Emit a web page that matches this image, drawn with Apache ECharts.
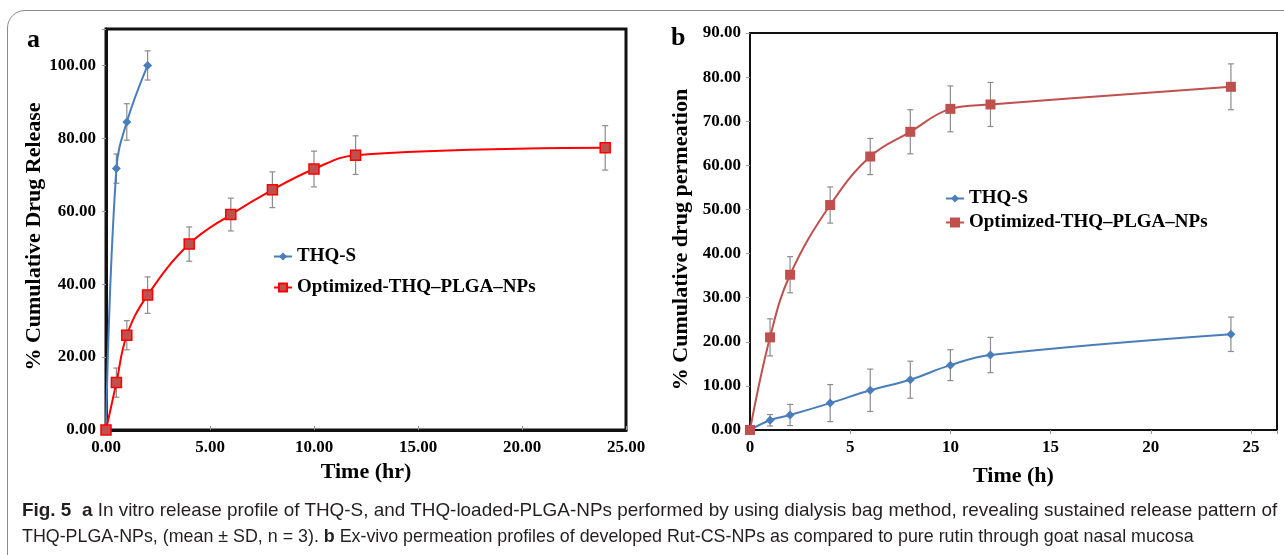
<!DOCTYPE html>
<html>
<head>
<meta charset="utf-8">
<script src="https://cdn.jsdelivr.net/npm/echarts@6/dist/echarts.min.js"></script>
<style>
  html, body { margin:0; padding:0; width:1284px; height:555px; overflow:hidden; background:#fff; }
  #frame { position:absolute; left:7px; top:10px; width:1320px; height:580px; border:1.5px solid #8a8a8a; border-top-left-radius:18px; box-sizing:border-box; }
  #chart { position:absolute; left:0; top:0; width:1284px; height:555px; }
  .cap { position:absolute; left:22px; white-space:nowrap; font-family:'Liberation Sans Narrow','Liberation Sans',sans-serif; font-size:19px; color:#231f20; transform-origin:0 50%; }
  .cap b { font-weight:bold; }
</style>
</head>
<body>
<div id="frame"></div>
<div id="chart"></div>
<div class="cap" id="cap1" style="top:499px"><b>Fig. 5</b>&nbsp; <b>a</b> In vitro release profile of THQ-S, and THQ-loaded-PLGA-NPs performed by using dialysis bag method, revealing sustained release pattern of</div>
<div class="cap" id="cap2" style="top:525px">THQ-PLGA-NPs, (mean ± SD, n = 3). <b>b</b> Ex-vivo permeation profiles of developed Rut-CS-NPs as compared to pure rutin through goat nasal mucosa</div>
<script>
// ---- data ----
const aThqsTime = [0, 0.5, 1, 2];
const aThqsVal  = [0, 71.7, 84.5, 100];
const aThqsErr  = [0, 4, 5, 4];
const aNpTime   = [0, 0.5, 1, 2, 4, 6, 8, 10, 12, 24];
const aNpVal    = [0, 13, 26, 37, 51, 59.1, 65.9, 71.6, 75.4, 77.4];
const aNpErr    = [0, 4, 4, 5, 4.7, 4.5, 4.9, 4.9, 5.3, 6.1];
const bTime     = [0, 1, 2, 4, 6, 8, 10, 12, 24];
const bThqsVal  = [0, 2.2, 3.4, 6.1, 9.0, 11.4, 14.7, 17.0, 21.7];
const bThqsErr  = [0, 1.3, 2.4, 4.2, 4.8, 4.2, 3.5, 4.0, 3.9];
const bNpVal    = [0, 21, 35.2, 51, 62, 67.6, 72.8, 73.8, 77.8];
const bNpErr    = [0, 4.2, 4.1, 4.1, 4.1, 5.0, 5.2, 5.0, 5.2];
const seriesNames = ['THQ-S', 'Optimized-THQ\u2013PLGA\u2013NPs'];
const aYStep = 20, aXStep = 5, bYStep = 10, bXStep = 5;

// ---- helpers ----
const SERIF = 'Liberation Serif';
function pts(xs, ys) { return xs.map((x, i) => [x, ys[i]]); }
function errs(xs, ys, es) { return xs.map((x, i) => [x, ys[i] - es[i], ys[i] + es[i]]).filter((d, i) => es[i] > 0); }
function errRender(params, api) {
  const x = api.value(0), lo = api.value(1), hi = api.value(2);
  const p1 = api.coord([x, lo]), p2 = api.coord([x, hi]);
  const w = 3, st = { stroke: '#8c8c8c', lineWidth: 1.2 };
  return { type: 'group', children: [
    { type: 'line', shape: { x1: p1[0], y1: p1[1], x2: p2[0], y2: p2[1] }, style: st },
    { type: 'line', shape: { x1: p1[0] - w, y1: p1[1], x2: p1[0] + w, y2: p1[1] }, style: st },
    { type: 'line', shape: { x1: p2[0] - w, y1: p2[1], x2: p2[0] + w, y2: p2[1] }, style: st }
  ]};
}
const labelStyle = { fontFamily: SERIF, fontWeight: 'bold', fontSize: 17, color: '#000' };
const nameStyle = { fontFamily: SERIF, fontWeight: 'bold', fontSize: 22, color: '#000' };
const legendText = { fontFamily: SERIF, fontWeight: 'bold', fontSize: 19, color: '#000' };
function fmtStep(step, dec) { return v => (Math.abs(v / step - Math.round(v / step)) < 1e-6) ? v.toFixed(dec) : ''; }

const aBlue = '#4A7EBB', aRed = '#FF0000', aRedFill = '#C0504D';
const bBlue = '#4A7EBB', bRed = '#C0504D';
const SM = 0.4;

const option = {
  animation: false,
  grid: [
    { left: 106, top: 29, width: 520, height: 401, show: true, borderColor: '#111', borderWidth: 3, backgroundColor: 'transparent' },
    { left: 750, top: 33, width: 527, height: 397, show: true, borderColor: '#111', borderWidth: 2, backgroundColor: 'transparent' }
  ],
  xAxis: [
    { gridIndex: 0, type: 'value', min: 0, max: 25, interval: aXStep,
      axisLine: { show: true, lineStyle: { color: '#111', width: 3 } },
      axisTick: { show: true, inside: true, length: 4, lineStyle: { color: '#999' } },
      splitLine: { show: false },
      axisLabel: Object.assign({ margin: 9, formatter: fmtStep(aXStep, 2) }, labelStyle),
      name: 'Time (hr)', nameLocation: 'middle', nameGap: 29, nameTextStyle: nameStyle },
    { gridIndex: 1, type: 'value', min: 0, max: 26.3, interval: bXStep,
      axisLine: { show: true, lineStyle: { color: '#111', width: 2 } },
      axisTick: { show: true, length: 4, lineStyle: { color: '#999' } },
      splitLine: { show: false },
      axisLabel: Object.assign({ margin: 9, formatter: fmtStep(bXStep, 0) }, labelStyle),
      name: 'Time (h)', nameLocation: 'middle', nameGap: 35, nameTextStyle: nameStyle }
  ],
  yAxis: [
    { gridIndex: 0, type: 'value', min: 0, max: 110, interval: aYStep,
      axisLine: { show: true, lineStyle: { color: '#111', width: 3 } },
      axisTick: { show: true, length: 4, lineStyle: { color: '#999' } },
      splitLine: { show: false },
      axisLabel: Object.assign({ margin: 10, formatter: fmtStep(aYStep, 2) }, labelStyle),
      name: '% Cumulative Drug Release', nameLocation: 'middle', nameGap: 61, nameTextStyle: Object.assign({ padding: [0, 14, 0, 0] }, nameStyle) },
    { gridIndex: 1, type: 'value', min: 0, max: 90, interval: bYStep,
      axisLine: { show: true, lineStyle: { color: '#111', width: 2 } },
      axisTick: { show: true, length: 4, lineStyle: { color: '#999' } },
      splitLine: { show: false },
      axisLabel: Object.assign({ margin: 9, formatter: fmtStep(bYStep, 2) }, labelStyle),
      name: '% Cumulative drug permeation', nameLocation: 'middle', nameGap: 58, nameTextStyle: Object.assign({ padding: [0, 16, 0, 0] }, nameStyle) }
  ],
  legend: [
    { orient: 'vertical', left: 268, top: 242, itemGap: 12, itemWidth: 18, itemHeight: 10,
      textStyle: legendText,
      data: [
        { name: seriesNames[0], itemStyle: { color: aBlue }, lineStyle: { color: aBlue } },
        { name: seriesNames[1], itemStyle: { color: aRedFill, borderColor: aRed }, lineStyle: { color: aRed } }
      ] },
    { orient: 'vertical', left: 940, top: 184, itemGap: 5, itemWidth: 18, itemHeight: 10,
      textStyle: legendText,
      data: [
        { name: seriesNames[0], itemStyle: { color: bBlue, borderColor: bBlue }, lineStyle: { color: bBlue } },
        { name: seriesNames[1], itemStyle: { color: bRed, borderColor: bRed }, lineStyle: { color: bRed } }
      ] }
  ],
  graphic: [
    { type: 'text', left: 27, top: 27, style: { text: 'a', font: 'bold 26px "Liberation Serif"', fill: '#000' } },
    { type: 'text', left: 671, top: 25, style: { text: 'b', font: 'bold 26px "Liberation Serif"', fill: '#000' } }
  ],
  series: [
    { type: 'custom', xAxisIndex: 0, yAxisIndex: 0, renderItem: errRender, data: errs(aThqsTime, aThqsVal, aThqsErr), z: 1, silent: true },
    { type: 'custom', xAxisIndex: 0, yAxisIndex: 0, renderItem: errRender, data: errs(aNpTime, aNpVal, aNpErr), z: 1, silent: true },
    { type: 'custom', xAxisIndex: 1, yAxisIndex: 1, renderItem: errRender, data: errs(bTime, bThqsVal, bThqsErr), z: 1, silent: true },
    { type: 'custom', xAxisIndex: 1, yAxisIndex: 1, renderItem: errRender, data: errs(bTime, bNpVal, bNpErr), z: 1, silent: true },
    { name: seriesNames[0], type: 'line', xAxisIndex: 0, yAxisIndex: 0, data: pts(aThqsTime, aThqsVal),
      smooth: SM, symbol: 'diamond', symbolSize: 9, z: 3,
      lineStyle: { color: aBlue, width: 2 }, itemStyle: { color: aBlue } },
    { name: seriesNames[1], type: 'line', xAxisIndex: 0, yAxisIndex: 0, data: pts(aNpTime, aNpVal),
      smooth: SM, symbol: 'rect', symbolSize: 10, z: 3,
      lineStyle: { color: aRed, width: 2 }, itemStyle: { color: aRedFill, borderColor: aRed, borderWidth: 1.5 } },
    { name: seriesNames[0], type: 'line', xAxisIndex: 1, yAxisIndex: 1, data: pts(bTime, bThqsVal),
      smooth: SM, symbol: 'diamond', symbolSize: 9, z: 3,
      lineStyle: { color: bBlue, width: 2 }, itemStyle: { color: bBlue } },
    { name: seriesNames[1], type: 'line', xAxisIndex: 1, yAxisIndex: 1, data: pts(bTime, bNpVal),
      smooth: SM, symbol: 'rect', symbolSize: 10, z: 3,
      lineStyle: { color: bRed, width: 2 }, itemStyle: { color: bRed } }
  ]
};
const chart = echarts.init(document.getElementById('chart'), null, { renderer: 'canvas' });
chart.setOption(option);

// fit caption lines to the reference widths
function fit(id, w) { const el = document.getElementById(id); const r = el.scrollWidth; el.style.transform = 'scaleX(' + (w / r) + ')'; }
fit('cap1', 1255); fit('cap2', 1172);
</script>
</body>
</html>
